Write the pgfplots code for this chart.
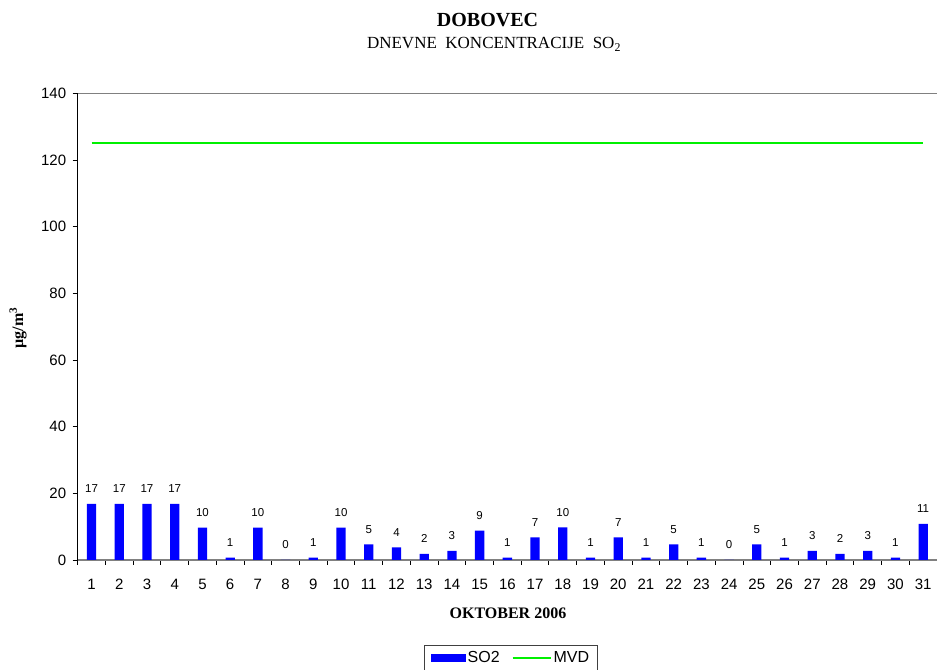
\documentclass[border=0pt]{standalone}
\usepackage{fontspec}
\setmainfont{Liberation Serif}
\setsansfont{Liberation Sans}
\usepackage{pgfplots}
\pgfplotsset{compat=1.18}
\definecolor{axgray}{RGB}{128,128,128}
\definecolor{mvdg}{RGB}{0,240,0}
\begin{document}
\begin{tikzpicture}[x=1bp,y=1bp]
\useasboundingbox (0,0) rectangle (937,670);
\node[font=\bfseries\fontsize{20bp}{24bp}\selectfont, anchor=base, inner sep=0pt] at (487.5,643) {DOBOVEC};
\node[font=\fontsize{17bp}{20bp}\selectfont, anchor=base, inner sep=0pt] at (494,621) {DNEVNE\ \ KONCENTRACIJE\ \ SO\textsubscript{2}};
\begin{axis}[
  at={(77.7bp,110bp)}, anchor=south west,
  scale only axis, width=859.3bp, height=466.7bp,
  xmin=0.5, xmax=31.5, ymin=0, ymax=140,
  axis x line*=bottom, axis y line*=left,
  x axis line style={-, draw=axgray, line width=1.6bp},
  y axis line style={-, draw=black, line width=0.9bp},
  xtick={1,...,31}, minor xtick={0.5,1.5,...,31.5},
  major x tick style={draw=none},
  ytick={0,20,...,140},
  tick align=outside, major tick length=5bp, minor tick length=5bp,
  tick style={black, line width=0.9bp},
  /pgf/number format/assume math mode=true,
  ticklabel style={font=\sffamily\fontsize{15bp}{18bp}\selectfont},
  xticklabel style={yshift=-11bp},
  yticklabel style={xshift=-3bp},
  xlabel={OKTOBER 2006},
  xlabel style={font=\bfseries\fontsize{16bp}{19bp}\selectfont, at={(axis description cs:0.5007,-0.1264)}, anchor=base},
  ylabel={µg/m\textsuperscript{3}},
  ylabel style={font=\bfseries\fontsize{16bp}{19bp}\selectfont, at={(axis description cs:-0.0695,0.497)}, anchor=center, rotate=0},
  legend columns=2,
  legend style={at={(0.5041,-0.1821)}, anchor=north, draw=black!75, line width=0.8bp,
    font=\sffamily\fontsize{16bp}{19bp}\selectfont, inner xsep=6bp, inner ysep=4bp,
    /tikz/every even column/.append style={column sep=10bp}},
]
\addplot[ybar, bar width=9.3bp, fill=blue, draw=none,
  nodes near coords,
  nodes near coords style={font=\sffamily\fontsize{11.5bp}{13bp}\selectfont, /pgf/number format/fixed, /pgf/number format/precision=0, anchor=south, inner sep=0pt, yshift=11bp, black},
  legend image code/.code={\fill[blue] (0bp,-3.8bp) rectangle (35bp,3.8bp);}]
coordinates {
(1,16.8) (2,16.8) (3,16.8) (4,16.8) (5,9.7) (6,0.7) (7,9.7) (8,0) (9,0.7) (10,9.7)
(11,4.7) (12,3.8) (13,1.8) (14,2.7) (15,8.8) (16,0.7) (17,6.8) (18,9.8) (19,0.7) (20,6.8)
(21,0.7) (22,4.7) (23,0.7) (24,0) (25,4.7) (26,0.7) (27,2.7) (28,1.8) (29,2.7) (30,0.7) (31,10.8)
};
\addlegendentry{SO2}
\addplot[mvdg, line width=2bp, mark=none, forget plot] coordinates {(1,125) (31,125)};
\addlegendimage{legend image code/.code={\draw[mvdg,line width=1.8bp] (0bp,0bp) -- (38bp,0bp);}}
\addlegendentry{MVD}
\draw[axgray, line width=1.6bp] (rel axis cs:0,1) -- (rel axis cs:1,1);
\end{axis}
\end{tikzpicture}
\end{document}
